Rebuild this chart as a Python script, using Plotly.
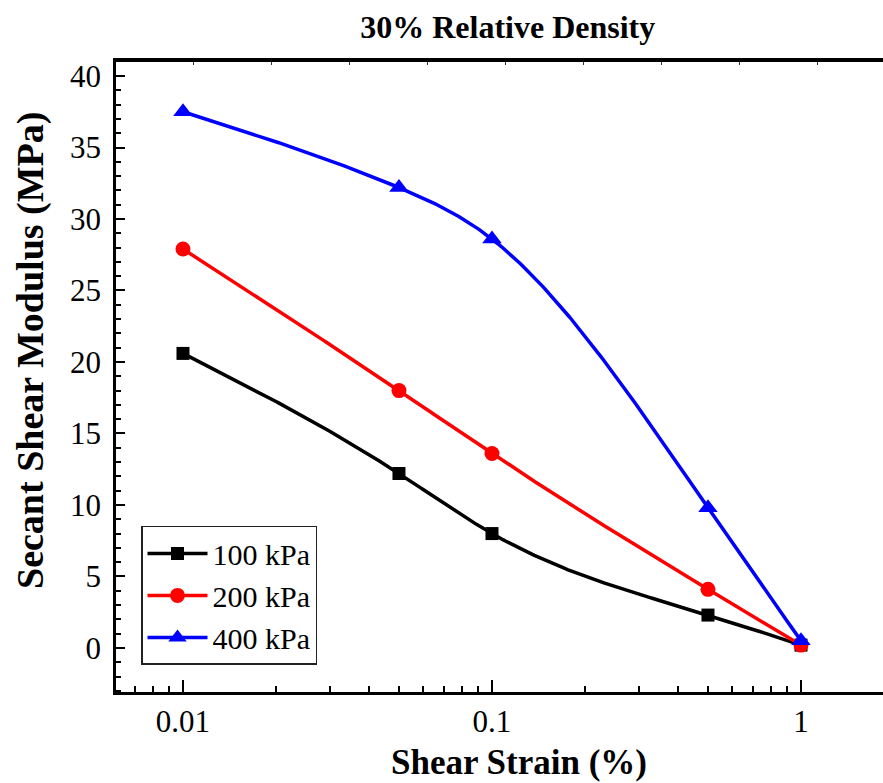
import numpy as np
import plotly.graph_objects as go

# Shear strain levels (%) and secant shear modulus (MPa) per confining pressure
strain = [0.01, 0.05, 0.1, 0.5, 1.0]
g_100 = [20.6, 12.2, 8.0, 2.3, 0.2]
g_200 = [27.9, 18.0, 13.6, 4.1, 0.2]
g_400 = [37.5, 32.2, 28.6, 9.8, 0.5]

series_names = ["100 kPa", "200 kPa", "400 kPa"]
series_colors = ["#000000", "#ff0000", "#0000ff"]
series_symbols = ["square", "circle", "triangle-up"]
series_sizes = [13, 15, 17]

x_tickvals = [0.01, 0.1, 1]
x_ticktext = ["0.01", "0.1", "1"]
y_tickvals = [0, 5, 10, 15, 20, 25, 30, 35, 40]

FONT = "Liberation Serif, Times New Roman, serif"


def natural_spline(xk, yk, xs):
    """Natural cubic spline through (xk, yk), evaluated at xs."""
    xk = np.asarray(xk, float)
    yk = np.asarray(yk, float)
    n = len(xk)
    h = np.diff(xk)
    A = np.zeros((n, n))
    r = np.zeros(n)
    A[0, 0] = A[-1, -1] = 1.0
    for i in range(1, n - 1):
        A[i, i - 1] = h[i - 1]
        A[i, i] = 2 * (h[i - 1] + h[i])
        A[i, i + 1] = h[i]
        r[i] = 6 * ((yk[i + 1] - yk[i]) / h[i] - (yk[i] - yk[i - 1]) / h[i - 1])
    M = np.linalg.solve(A, r)
    idx = np.clip(np.searchsorted(xk, xs, side="right") - 1, 0, n - 2)
    x0, x1 = xk[idx], xk[idx + 1]
    hi = h[idx]
    a = (x1 - xs) / hi
    b = (xs - x0) / hi
    return (a * yk[idx] + b * yk[idx + 1]
            + ((a**3 - a) * M[idx] + (b**3 - b) * M[idx + 1]) * hi**2 / 6)


log_x = np.log10(strain)
fine_log = np.linspace(log_x[0], log_x[-1], 300)
fine_x = 10 ** fine_log

fig = go.Figure()
for name, vals, col, sym, sz in zip(series_names, [g_100, g_200, g_400],
                                    series_colors, series_symbols, series_sizes):
    # smooth connecting curve (spline in log-strain space)
    fig.add_trace(go.Scatter(
        x=fine_x, y=natural_spline(log_x, vals, fine_log), mode="lines",
        line=dict(color=col, width=3.5), legendgroup=name, showlegend=False,
        hoverinfo="skip",
    ))
    # measured points
    fig.add_trace(go.Scatter(
        x=strain, y=vals, mode="markers", legendgroup=name, showlegend=False,
        marker=dict(symbol=sym, size=sz, color=col), name=name,
    ))
    # legend entry
    fig.add_trace(go.Scatter(
        x=[None], y=[None], mode="lines+markers", name=name, legendgroup=name,
        line=dict(color=col, width=3.5),
        marker=dict(symbol=sym, size=sz, color=col),
    ))

# small ticks along the top frame
fig.add_trace(go.Scatter(x=[None], y=[None], xaxis="x2", showlegend=False,
                         hoverinfo="skip"))

fig.update_layout(
    width=883, height=783,
    margin=dict(l=116, r=0, t=62, b=91),
    paper_bgcolor="white", plot_bgcolor="white",
    font=dict(family=FONT, color="black", size=31),
    title=dict(text="<b>30% Relative Density</b>", x=0.575, xref="container",
               xanchor="center", y=1 - 27 / 783, yanchor="middle",
               font=dict(size=32, family=FONT)),
    xaxis=dict(
        type="log", range=[-2.2168, 0.2654],
        tickvals=x_tickvals, ticktext=x_ticktext,
        ticks="inside", ticklen=12, tickwidth=2, tickcolor="black",
        minor=dict(ticks="inside", ticklen=6, tickwidth=1.5, tickcolor="black",
                   dtick="D1"),
        showline=True, linecolor="black", linewidth=2.5, mirror=False,
        showgrid=False, zeroline=False,
        tickfont=dict(size=31), ticklabelstandoff=0,
    ),
    xaxis2=dict(
        overlaying="x", side="top", range=[0, 768 / 78], dtick=1, tick0=0,
        showticklabels=False, ticks="inside", ticklen=3, tickwidth=1,
        tickcolor="#333", showline=True, linecolor="black", linewidth=3.5,
        showgrid=False, zeroline=False,
    ),
    yaxis=dict(
        range=[-3.08, 40.98], tickvals=y_tickvals,
        ticks="inside", ticklen=9, tickwidth=2, tickcolor="black",
        minor=dict(ticks="inside", ticklen=5, tickwidth=1.5, tickcolor="black",
                   dtick=1),
        showline=True, linecolor="black", linewidth=2.5,
        showgrid=False, zeroline=False,
        tickfont=dict(size=31), ticklabelstandoff=6,
    ),
    legend=dict(
        x=0.0326, y=0.043, xanchor="left", yanchor="bottom",
        bgcolor="white", bordercolor="#222", borderwidth=1.5,
        font=dict(size=30, family=FONT), tracegroupgap=0, itemwidth=60,
    ),
    showlegend=True,
    annotations=[
        dict(text="<b>Shear Strain (%)</b>", xref="paper", yref="paper",
             x=(519 - 116) / 767, y=-(762 - 692) / 630, xanchor="center",
             yanchor="middle", showarrow=False, font=dict(size=35, family=FONT)),
        dict(text="<b>Secant Shear Modulus (MPa)</b>", xref="paper", yref="paper",
             x=(30 - 116) / 767, y=(692 - 351) / 630, xanchor="center",
             yanchor="middle", textangle=-90, showarrow=False,
             font=dict(size=38, family=FONT)),
    ],
)

fig.write_html("out.html")
